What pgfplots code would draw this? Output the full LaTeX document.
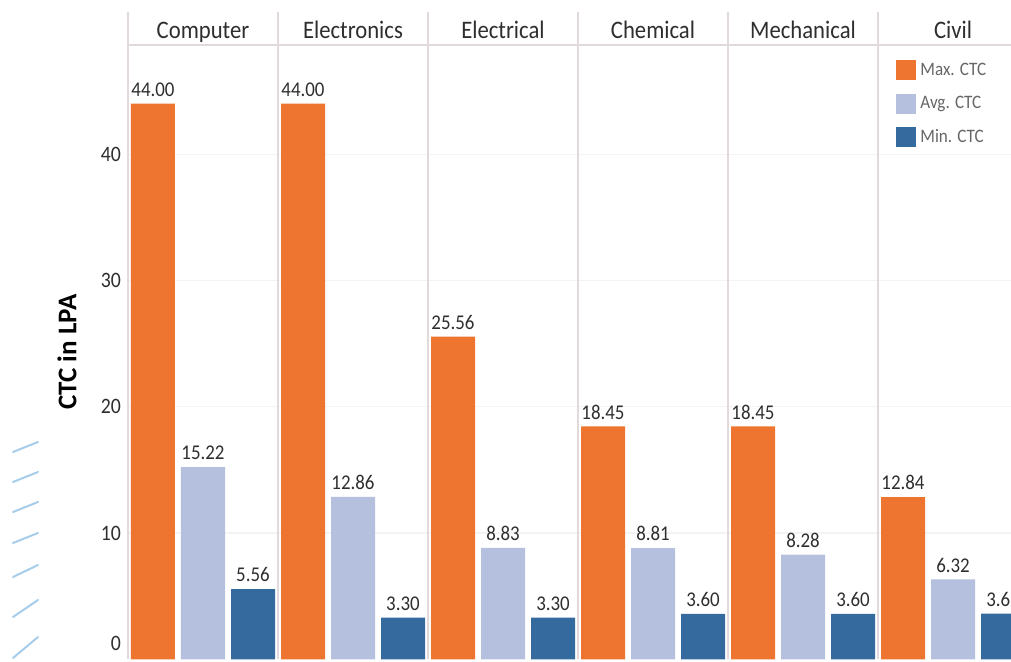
\documentclass[border=0pt]{standalone}
\usepackage{pgfplots}
\pgfplotsset{compat=1.18}
\usepackage{fontspec}
\setmainfont[FakeStretch=0.9]{Carlito}
\newfontfamily\labfont{Carlito}
\definecolor{cmax}{HTML}{ED7530}
\definecolor{cavg}{HTML}{B5C0DE}
\definecolor{cmin}{HTML}{356A9E}
\definecolor{sep}{HTML}{E2DADA}
\definecolor{gridc}{HTML}{F5F2F2}
\definecolor{txt}{HTML}{2E2E2E}
\definecolor{deco}{HTML}{A6CDEA}
\begin{document}
\begin{tikzpicture}
\begin{axis}[
  scale only axis, width=450pt, height=307.15pt,
  xmin=0, xmax=18, ymin=0, ymax=48.64,
  clip=false,
  axis line style={draw=none},
  xtick=\empty,
  ytick={10,20,30,40},
  extra y ticks={0},
  extra y tick style={ymajorgrids=false, yticklabel style={yshift=8pt}},
  major tick length=0pt,
  ymajorgrids, grid style={color=gridc, line width=0.6pt},
  yticklabel style={font=\fontsize{11}{13}\selectfont, text=txt},
  /pgf/number format/assume math mode=true,
  ylabel={CTC in LPA},
  ylabel style={at={(axis description cs:0,0.5)}, yshift=30.5pt, anchor=center, font=\labfont\bfseries\fontsize{13.5}{16}\selectfont, text=black},
  ybar, bar shift=0pt, bar width=0.88,
  nodes near coords={\pgfmathprintnumber[fixed,fixed zerofill,precision=2,assume math mode=true]{\pgfplotspointmeta}},
  nodes near coords style={font=\fontsize{10.5}{12}\selectfont, text=txt},
  legend image code/.code={\fill[#1] (0pt,-5pt) rectangle (10pt,5pt);},
  legend style={at={(axis cs:15.24,47.9)}, anchor=north west, draw=none, fill=none,
    font=\fontsize{9.5}{11}\selectfont, text=black!60, row sep=5pt},
  legend cell align=left,
]
\addplot[fill=cmax, draw=none] coordinates {(0.5,44.00) (3.5,44.00) (6.5,25.56) (9.5,18.45) (12.5,18.45) (15.5,12.84)};
\addplot[fill=cavg, draw=none] coordinates {(1.5,15.22) (4.5,12.86) (7.5,8.83) (10.5,8.81) (13.5,8.28) (16.5,6.32)};
\addplot[fill=cmin, draw=none] coordinates {(2.5,5.56) (5.5,3.30) (8.5,3.30) (11.5,3.60) (14.5,3.60) (17.5,3.61)};
\legend{Max. CTC, Avg. CTC, Min. CTC}
\draw[sep, line width=0.8pt] (axis cs:0,0) -- (axis cs:0,51.25);
\draw[sep, line width=0.8pt] (axis cs:3,0) -- (axis cs:3,51.25);
\draw[sep, line width=0.8pt] (axis cs:6,0) -- (axis cs:6,51.25);
\draw[sep, line width=0.8pt] (axis cs:9,0) -- (axis cs:9,51.25);
\draw[sep, line width=0.8pt] (axis cs:12,0) -- (axis cs:12,51.25);
\draw[sep, line width=0.8pt] (axis cs:15,0) -- (axis cs:15,51.25);
\draw[sep, line width=0.8pt] (axis cs:18,0) -- (axis cs:18,51.25);
\draw[sep, line width=0.8pt] (axis cs:0,48.64) -- (axis cs:18,48.64);
\node[anchor=base, yshift=3.5pt, text=txt, font=\fontsize{12.6}{14}\selectfont] at (axis cs:1.5,48.64) {Computer};
\node[anchor=base, yshift=3.5pt, text=txt, font=\fontsize{12.6}{14}\selectfont] at (axis cs:4.5,48.64) {Electronics};
\node[anchor=base, yshift=3.5pt, text=txt, font=\fontsize{12.6}{14}\selectfont] at (axis cs:7.5,48.64) {Electrical};
\node[anchor=base, yshift=3.5pt, text=txt, font=\fontsize{12.6}{14}\selectfont] at (axis cs:10.5,48.64) {Chemical};
\node[anchor=base, yshift=3.5pt, text=txt, font=\fontsize{12.6}{14}\selectfont] at (axis cs:13.5,48.64) {Mechanical};
\node[anchor=base, yshift=3.5pt, text=txt, font=\fontsize{12.6}{14}\selectfont] at (axis cs:16.5,48.64) {Civil};
\coordinate (O) at (rel axis cs:0,0);
\end{axis}
\begin{scope}[deco, line width=1pt, line cap=round]
\draw ([shift={(-57.5pt,103.65pt)}]O) -- ([shift={(-45pt,108.65pt)}]O);
\draw ([shift={(-57.5pt,88.65pt)}]O) -- ([shift={(-45pt,93.65pt)}]O);
\draw ([shift={(-57.5pt,73.65pt)}]O) -- ([shift={(-45pt,78.65pt)}]O);
\draw ([shift={(-57.5pt,58.15pt)}]O) -- ([shift={(-45pt,63.15pt)}]O);
\draw ([shift={(-57.5pt,41.15pt)}]O) -- ([shift={(-45pt,47.15pt)}]O);
\draw ([shift={(-57.5pt,21.15pt)}]O) -- ([shift={(-45pt,29.65pt)}]O);
\draw ([shift={(-57.5pt,0.65pt)}]O) -- ([shift={(-45pt,11.15pt)}]O);
\end{scope}
\pgfresetboundingbox
\path[use as bounding box] ([shift={(-64pt,-0.85pt)}]O) rectangle ([shift={(441.5pt,329.65pt)}]O);
\end{tikzpicture}
\end{document}
